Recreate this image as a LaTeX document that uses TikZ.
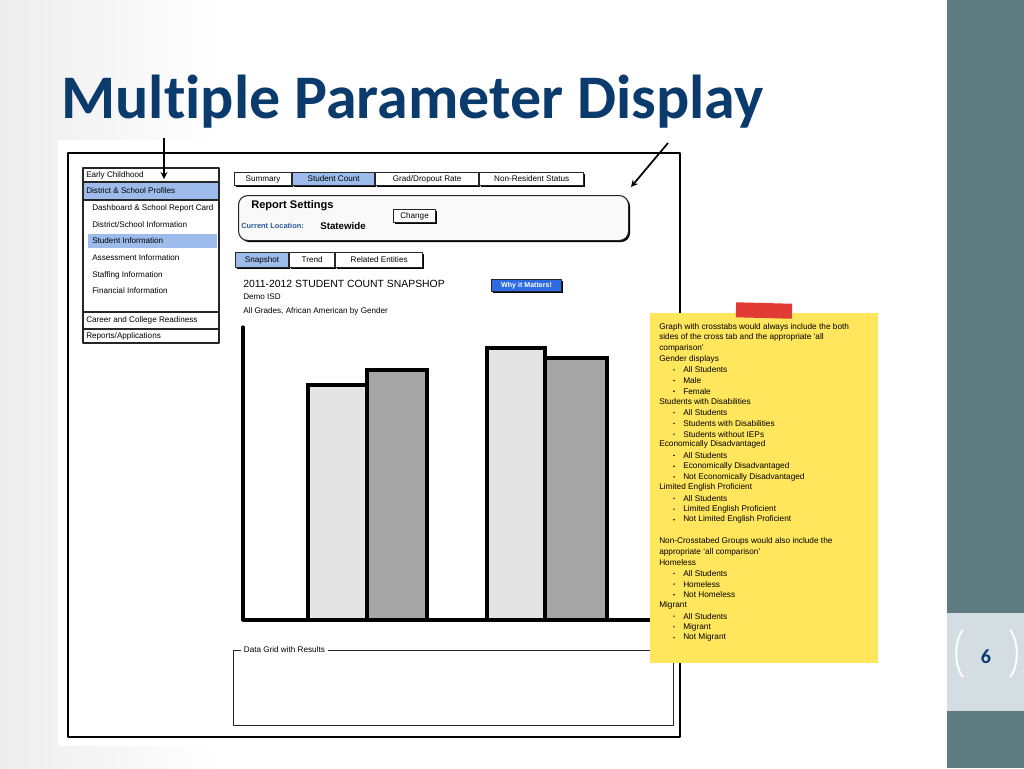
\documentclass[tikz,border=0pt]{standalone}
\usepackage{fontspec}
\setmainfont{Liberation Sans}
\newfontfamily\slidefont[Ligatures=NoCommon]{Carlito}
\usetikzlibrary{positioning,shadows}
\definecolor{navy}{HTML}{0B3A6D}
\definecolor{slate}{HTML}{5E7B81}
\definecolor{band}{HTML}{D4DEE2}
\definecolor{selblue}{HTML}{9DBCEB}
\definecolor{btnblue}{HTML}{2E6BE0}
\definecolor{locblue}{HTML}{2E5C9E}
\definecolor{notey}{HTML}{FFE65C}
\definecolor{tape}{HTML}{E23B35}
\definecolor{barlight}{HTML}{E4E4E4}
\definecolor{bardark}{HTML}{A6A6A6}
\begin{document}
\begin{tikzpicture}[x=0.75pt, y=-0.75pt, font=\fontsize{6.1}{7}\selectfont, line join=round, >=stealth,
	ui/.style={draw=black!85, line width=0.8pt},
	shadowed/.style={drop shadow={shadow xshift=1.2pt, shadow yshift=-1.2pt, opacity=1, fill=black}},
	tabbox/.style={ui, fill=white, shadowed, inner sep=0pt, anchor=north west},
	seltab/.style={tabbox, fill=selblue},
	item/.style={anchor=west, inner sep=0pt},
	bar/.style={draw=black, line width=3pt, line join=miter},
	notetext/.style={anchor=west, inner sep=0pt, font=\fontsize{6.2}{7}\selectfont}]
	\useasboundingbox (0,0) rectangle (1024,768);
	% nen trang
	\shade[left color=gray!14, right color=white] (0,0) rectangle (220,768);
	\fill[white] (58,140) rectangle (692,746);
	\fill[slate] (947,0) rectangle (1024,768);
	\fill[band] (947,613) rectangle (1024,711);
	\draw[white, line width=1.4pt] (963,630) .. controls (954,640) and (954,667) .. (963,677);
	\draw[white, line width=1.4pt] (1010,630) .. controls (1019,640) and (1019,667) .. (1010,677);
	\node[text=navy, font=\slidefont\bfseries\fontsize{15}{18}\selectfont] (pnum) at (986,657) {6};
	\node[anchor=base west, inner sep=0pt, text=navy, font=\slidefont\bfseries\fontsize{46.5}{50}\selectfont] (title) at (61,118) {Multiple Parameter Display};
	% khung mockup
	\draw[line width=1pt] (68,153) rectangle (680,737);
	% menu trai
	\draw[ui] (83,168) rectangle (219,343);
	\draw[ui, fill=selblue] (83,182) rectangle (219,200);
	\draw[ui] (83,312) -- (219,312) (83,329) -- (219,329);
	\fill[selblue] (88,234) rectangle (217,248);
	\foreach \txt/\yy [count=\i] in {Early Childhood/175, District \& School Profiles/191, Career and College Readiness/320, {Reports/Applications}/336}
		\node[item] (menu\i) at (86,\yy) {\txt};
	\foreach \txt/\yy [count=\i] in {Dashboard \& School Report Card/208, {District/School Information}/225, Student Information/241, Assessment Information/258, Staffing Information/275, Financial Information/291}
		\node[item] (sub\i) at (92,\yy) {\txt};
	% tabs
	\node[tabbox, minimum width=42.75pt, minimum height=9.75pt] (summary) at (234,172) {Summary};
	\node[seltab, minimum width=61.5pt, minimum height=9.75pt, right=0pt of summary] (count) {Student Count};
	\node[tabbox, minimum width=77.25pt, minimum height=9.75pt, right=0pt of count] (grad) {Grad/Dropout Rate};
	\node[tabbox, minimum width=78pt, minimum height=9.75pt, right=0pt of grad] (nonres) {Non-Resident Status};
	% report settings
	\node[ui, fill=gray!5, shadowed, rounded corners=7pt, anchor=north west, minimum width=292.5pt, minimum height=33.75pt] (settings) at (238,195) {};
	\node[item, font=\bfseries\fontsize{8.3}{10}\selectfont] (rs) at (251,206) {Report Settings};
	\node[item, text=locblue, font=\bfseries\fontsize{5.6}{7}\selectfont] (loc) at (241,226) {Current Location:};
	\node[item, font=\bfseries\fontsize{7.3}{9}\selectfont] (state) at (320,226) {Statewide};
	\node[tabbox, minimum width=31.5pt, minimum height=9.75pt] (change) at (393,209) {Change};
	% sub tabs
	\node[seltab, minimum width=39.75pt, minimum height=11.25pt] (snap) at (235,252) {Snapshot};
	\node[tabbox, minimum width=33.75pt, minimum height=11.25pt, right=0pt of snap] (trend) {Trend};
	\node[tabbox, minimum width=65.25pt, minimum height=11.25pt, right=0pt of trend] (related) {Related Entities};
	\node[item, font=\fontsize{7.8}{9}\selectfont] (snaptitle) at (243,284) {2011-2012 STUDENT COUNT SNAPSHOP};
	\node[tabbox, fill=btnblue, text=white, font=\bfseries\fontsize{5.3}{6}\selectfont, minimum width=52.5pt, minimum height=9pt] (why) at (491,279) {Why it Matters!};
	\node[item] (demo) at (243,297) {Demo ISD};
	\node[item] (grades) at (243,311) {All Grades, African American by Gender};
	% bieu do
	\foreach \xa/\xb/\top/\col [count=\i] in {308/367/385/barlight, 367/427/370/bardark, 487/545/348/barlight, 545/607/358/bardark}
		\draw[bar, fill=\col] (\xa,620) rectangle (\xb,\top);
	\draw[line width=2.4pt, line cap=round] (243,327) -- (243,620) -- (660,620);
	% data grid
	\draw[ui, line width=0.7pt] (233,650) rectangle (673,725);
	\node[item, fill=white, inner xsep=2pt] (grid) at (241,650) {Data Grid with Results};
	% mui ten
	\coordinate (tailA) at (164,138);
	\coordinate (tipA) at (164,179);
	\coordinate (tailB) at (668,143);
	\coordinate (tipB) at (631,187);
	\draw[->, line width=1.3pt] (tailA) -- (tipA);
	\draw[->, line width=1.3pt] (tailB) -- (tipB);
	% giay ghi chu
	\fill[notey] (650,313) rectangle (878,663);
	\fill[tape, rotate around={-1.5:(764,310)}] (736,303) rectangle (792,318);
	\foreach \lvl/\txt [count=\i] in {0/Graph with crosstabs would always include the both, 0/sides of the cross tab and the appropriate `all, 0/comparison', 0/Gender displays, 1/All Students, 1/Male, 1/Female, 0/Students with Disabilities, 1/All Students, 1/Students with Disabilities, 1/Students without IEPs, 0/Economically Disadvantaged, 1/All Students, 1/Economically Disadvantaged, 1/Not Economically Disadvantaged, 0/Limited English Proficient, 1/All Students, 1/Limited English Proficient, 1/Not Limited English Proficient, 0/{}, 0/Non-Crosstabed Groups would also include the, 0/appropriate `all comparison', 0/Homeless, 1/All Students, 1/Homeless, 1/Not Homeless, 0/Migrant, 1/All Students, 1/Migrant, 1/Not Migrant}{
		\pgfmathsetmacro{\yy}{327+(\i-1)*10.71}
		\pgfmathsetmacro{\xx}{\lvl==1 ? 683 : 659}
		\ifnum\lvl=1 \fill (674,\yy) circle (0.6pt);\fi
		\node[notetext] (line\i) at (\xx,\yy) {\txt};
	}
\end{tikzpicture}
\end{document}
